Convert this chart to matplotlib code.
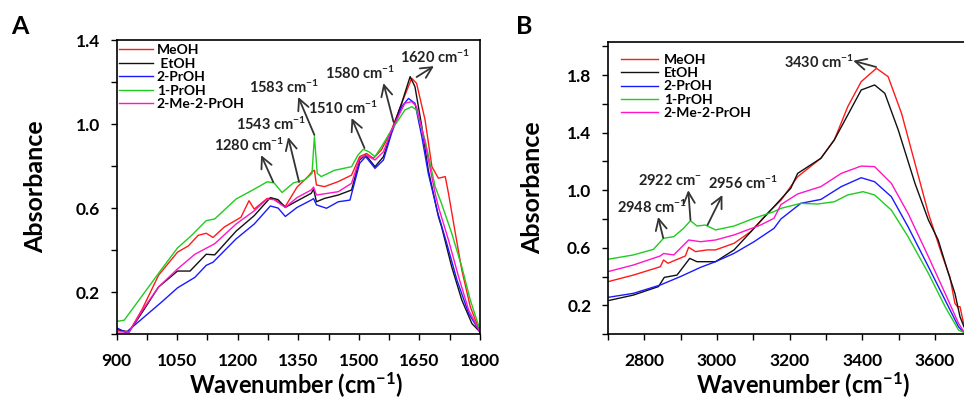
import matplotlib
matplotlib.use("Agg")
import matplotlib.pyplot as plt
from matplotlib.ticker import MultipleLocator

plt.rcParams['font.family'] = ['Lato', 'DejaVu Sans']
plt.rcParams['font.weight'] = 'bold'
plt.rcParams['mathtext.fontset'] = 'custom'
plt.rcParams['mathtext.rm'] = 'Lato:bold'
plt.rcParams['mathtext.it'] = 'Lato:bold:italic'
plt.rcParams['mathtext.bf'] = 'Lato:bold'

names = ["MeOH", "EtOH", "2-PrOH", "1-PrOH", "2-Me-2-PrOH"]
colors = ["#ff1a1a", "#111111", "#1a1aff", "#1fcc1f", "#ff14c8"]

# ---- panel A (900-1800 cm-1) ----
a_meoh_x = [900, 931, 964, 1004, 1051, 1078, 1102, 1122, 1139, 1167, 1208, 1228, 1241, 1273, 1290, 1318,
            1347, 1374, 1384, 1390, 1395, 1415, 1449, 1482, 1502, 1519, 1536, 1556, 1581, 1606, 1631,
            1643, 1664, 1681, 1697, 1714, 1722, 1739, 1755, 1776, 1800]
a_meoh_y = [0.02, 0.01, 0.12, 0.28, 0.39, 0.42, 0.47, 0.48, 0.46, 0.51, 0.556, 0.635, 0.595, 0.646, 0.643,
            0.608, 0.70, 0.75, 0.773, 0.78, 0.71, 0.702, 0.726, 0.757, 0.845, 0.86, 0.837, 0.877, 0.972,
            1.099, 1.218, 1.194, 1.02, 0.797, 0.742, 0.75, 0.67, 0.48, 0.305, 0.13, 0.01]
a_etoh_x = [900, 915, 931, 964, 1004, 1051, 1082, 1122, 1143, 1196, 1241, 1281, 1300, 1318, 1347, 1382,
            1388, 1395, 1415, 1449, 1482, 1502, 1517, 1540, 1561, 1581, 1606, 1627, 1639, 1656, 1672,
            1697, 1705, 1730, 1755, 1780, 1800]
a_etoh_y = [0.026, 0.015, 0.01, 0.105, 0.224, 0.30, 0.30, 0.38, 0.377, 0.49, 0.564, 0.65, 0.64, 0.603,
            0.634, 0.67, 0.69, 0.63, 0.646, 0.662, 0.686, 0.829, 0.853, 0.797, 0.845, 0.964, 1.099,
            1.226, 1.178, 0.988, 0.781, 0.56, 0.51, 0.32, 0.162, 0.05, 0.01]
a_2proh_x = [900, 923, 964, 1012, 1051, 1094, 1122, 1139, 1196, 1241, 1281, 1300, 1318, 1347, 1382, 1388,
             1395, 1420, 1449, 1478, 1502, 1517, 1540, 1561, 1581, 1606, 1623, 1639, 1656, 1672, 1695,
             1718, 1743, 1772, 1800]
a_2proh_y = [0.03, 0.007, 0.074, 0.153, 0.22, 0.27, 0.327, 0.342, 0.453, 0.524, 0.61, 0.60, 0.56, 0.603,
             0.638, 0.645, 0.615, 0.599, 0.63, 0.638, 0.813, 0.845, 0.789, 0.829, 0.956, 1.083, 1.122,
             1.099, 0.94, 0.765, 0.58, 0.43, 0.257, 0.098, 0.01]
a_1proh_x = [900, 919, 964, 1012, 1051, 1086, 1122, 1143, 1196, 1241, 1273, 1290, 1310, 1338, 1366, 1384,
             1390, 1397, 1407, 1440, 1482, 1498, 1511, 1525, 1540, 1556, 1581, 1598, 1614, 1631, 1643,
             1664, 1689, 1705, 1730, 1755, 1776, 1800]
a_1proh_y = [0.06, 0.066, 0.184, 0.31, 0.41, 0.47, 0.54, 0.548, 0.643, 0.69, 0.725, 0.72, 0.674, 0.72,
             0.734, 0.765, 0.94, 0.765, 0.75, 0.78, 0.797, 0.853, 0.88, 0.868, 0.845, 0.892, 0.972, 1.02,
             1.067, 1.083, 1.067, 0.924, 0.702, 0.62, 0.48, 0.32, 0.162, 0.02]
a_me2proh_x = [900, 931, 964, 1004, 1051, 1094, 1143, 1196, 1241, 1273, 1290, 1318, 1347, 1382, 1388,
               1395, 1449, 1482, 1502, 1517, 1540, 1561, 1581, 1614, 1631, 1643, 1664, 1689, 1697, 1722,
               1747, 1772, 1800]
a_me2proh_y = [0.01, 0.01, 0.113, 0.224, 0.31, 0.38, 0.43, 0.524, 0.587, 0.643, 0.64, 0.603, 0.65, 0.686,
               0.70, 0.662, 0.678, 0.718, 0.837, 0.853, 0.829, 0.868, 0.972, 1.099, 1.107, 1.083, 0.908,
               0.67, 0.606, 0.448, 0.273, 0.114, 0.01]

# ---- panel B (2700-3680 cm-1) ----
b_meoh_x = [2700, 2770, 2844, 2853, 2865, 2913, 2922, 2941, 2973, 2996, 3047, 3093, 3139, 3176, 3222, 3286,
            3323, 3360, 3397, 3439, 3471, 3508, 3545, 3582, 3618, 3641, 3655, 3662, 3669, 3680]
b_meoh_y = [0.364, 0.41, 0.468, 0.515, 0.492, 0.543, 0.603, 0.573, 0.585, 0.585, 0.631, 0.712, 0.84, 0.93,
            1.094, 1.222, 1.35, 1.581, 1.755, 1.848, 1.79, 1.535, 1.187, 0.839, 0.561, 0.398, 0.213, 0.19,
            0.19, 0.06]
b_etoh_x = [2700, 2770, 2839, 2855, 2890, 2925, 2945, 2996, 3047, 3102, 3157, 3203, 3222, 3286, 3323, 3360,
            3397, 3434, 3462, 3499, 3545, 3582, 3609, 3637, 3655, 3669, 3680]
b_etoh_y = [0.232, 0.271, 0.33, 0.394, 0.41, 0.526, 0.503, 0.503, 0.585, 0.735, 0.886, 1.013, 1.117, 1.222,
            1.35, 1.523, 1.697, 1.732, 1.674, 1.419, 1.048, 0.793, 0.654, 0.422, 0.283, 0.12, 0.05]
b_2proh_x = [2700, 2770, 2844, 2899, 2955, 2996, 3047, 3102, 3157, 3176, 3231, 3286, 3342, 3397, 3434, 3480,
             3526, 3582, 3628, 3665, 3680]
b_2proh_y = [0.255, 0.283, 0.341, 0.399, 0.464, 0.503, 0.561, 0.642, 0.735, 0.80, 0.909, 0.936, 1.025,
             1.087, 1.059, 0.955, 0.746, 0.468, 0.236, 0.05, 0.01]
b_1proh_x = [2700, 2770, 2825, 2853, 2881, 2908, 2927, 2945, 2968, 2996, 3047, 3102, 3157, 3176, 3231, 3277,
             3323, 3360, 3402, 3434, 3480, 3526, 3582, 3628, 3665, 3680]
b_1proh_y = [0.52, 0.55, 0.589, 0.666, 0.677, 0.735, 0.788, 0.751, 0.758, 0.724, 0.751, 0.805, 0.851, 0.874,
             0.909, 0.904, 0.92, 0.967, 0.99, 0.967, 0.862, 0.677, 0.422, 0.19, 0.028, 0.01]
b_me2proh_x = [2700, 2770, 2844, 2853, 2881, 2922, 2955, 2996, 3047, 3120, 3157, 3176, 3222, 3286, 3342,
               3397, 3434, 3480, 3526, 3582, 3628, 3665, 3680]
b_me2proh_y = [0.434, 0.48, 0.543, 0.56, 0.55, 0.654, 0.642, 0.654, 0.689, 0.758, 0.805, 0.90, 0.974, 1.025,
               1.117, 1.168, 1.164, 1.048, 0.839, 0.538, 0.283, 0.074, 0.015]

# peak labels: (text, text pos, arrow tail on curve, arrow head)
a_labels = ["1620 cm$^{-1}$", "1580 cm$^{-1}$", "1583 cm$^{-1}$", "1510 cm$^{-1}$", "1543 cm$^{-1}$", "1280 cm$^{-1}$"]
a_text_xy = [(1688, 1.32), (1502, 1.243), (1315, 1.176), (1462, 1.076), (1283, 1.0), (1228, 0.9)]
a_tail_xy = [(1643, 1.224), (1586, 1.01), (1390, 0.948), (1514, 0.886), (1352, 0.724), (1288, 0.724)]
a_head_xy = [(1686, 1.276), (1561, 1.195), (1350, 1.129), (1482, 1.029), (1325, 0.938), (1258, 0.852)]
b_labels = ["3430 cm$^{-1}$", "2922 cm$^{-}$", "2956 cm$^{-1}$", "2948 cm$^{-1}$"]
b_text_xy = [(3281, 1.89), (2871, 1.07), (3071, 1.05), (2822, 0.883)]
b_tail_xy = [(3438, 1.857), (2927, 0.793), (2974, 0.758), (2852, 0.668)]
b_head_xy = [(3375, 1.90), (2921, 1.0), (3015, 0.967), (2838, 0.814)]

fig = plt.figure(figsize=(9.64, 4.01), dpi=100)
axA = fig.add_axes([0.1209, 0.167, 0.377, 0.733])
axB = fig.add_axes([0.6307, 0.167, 0.3693, 0.728])

a_series = [(a_meoh_x, a_meoh_y), (a_etoh_x, a_etoh_y), (a_2proh_x, a_2proh_y),
            (a_1proh_x, a_1proh_y), (a_me2proh_x, a_me2proh_y)]
b_series = [(b_meoh_x, b_meoh_y), (b_etoh_x, b_etoh_y), (b_2proh_x, b_2proh_y),
            (b_1proh_x, b_1proh_y), (b_me2proh_x, b_me2proh_y)]
a_names = ["MeOH", " EtOH", "2-PrOH", "1-PrOH", "2-Me-2-PrOH"]

for (x, y), c, n in zip(a_series, colors, a_names):
    axA.plot(x, y, color=c, lw=1.0, label=n)
for (x, y), c, n in zip(b_series, colors, names):
    axB.plot(x, y, color=c, lw=1.0, label=n)

def style(ax, xlim, ylim, xmaj, xmin, ymaj0, ystep):
    ax.set_xlim(*xlim); ax.set_ylim(*ylim)
    ax.xaxis.set_major_locator(MultipleLocator(xmaj))
    ax.xaxis.set_minor_locator(MultipleLocator(xmin))
    ax.set_yticks([v / 10 for v in range(int(ymaj0 * 10), int(ylim[1] * 10) + 1, int(ystep * 10))])
    ax.yaxis.set_minor_locator(MultipleLocator(ystep / 2))
    ax.tick_params(which='both', direction='out', length=4, width=1.0, labelsize=12.5)
    ax.tick_params(axis='x', which='both', pad=10)
    ax.tick_params(axis='y', which='both', pad=8)
    for s in ax.spines.values():
        s.set_linewidth(1.2)
    ax.set_xlabel("Wavenumber (cm$^{-1}$)", fontsize=17, fontweight='bold')
    ax.set_ylabel("Absorbance", fontsize=18, fontweight='bold')

style(axA, (900, 1800), (0, 1.4), 150, 75, 0.2, 0.4)
style(axB, (2700, 3680), (0, 2.03), 200, 100, 0.2, 0.4)
axB.spines['right'].set_visible(False)

axA.xaxis.set_label_coords(0.494, -0.125)
axA.yaxis.set_label_coords(-0.19, 0.5)
axB.xaxis.set_label_coords(0.548, -0.125)
axB.yaxis.set_label_coords(-0.18, 0.5)

for ax, labs, txy, tail, head in [(axA, a_labels, a_text_xy, a_tail_xy, a_head_xy),
                                  (axB, b_labels, b_text_xy, b_tail_xy, b_head_xy)]:
    for lab, t, s, h in zip(labs, txy, tail, head):
        ax.text(t[0], t[1], lab, fontsize=10.5, fontweight='bold', color='#222222',
                ha='center', va='center')
        ax.annotate("", xy=h, xytext=s,
                    arrowprops=dict(arrowstyle='->', color='#333333', lw=1.3,
                                    mutation_scale=20, shrinkA=0, shrinkB=0))

axA.legend(loc='upper left', bbox_to_anchor=(0.0, 0.995), frameon=False, fontsize=10,
           handlelength=2.4, handletextpad=0.3, labelspacing=0.1, borderpad=0.1, borderaxespad=0.1)
axB.legend(loc='upper left', bbox_to_anchor=(0.03, 0.97), frameon=False, fontsize=10,
           handlelength=2.6, handletextpad=0.45, labelspacing=0.1, borderpad=0.1, borderaxespad=0.1)

fig.text(0.012, 0.915, "A", fontsize=18, fontweight='bold')
fig.text(0.535, 0.915, "B", fontsize=18, fontweight='bold')

fig.savefig("out.png", dpi=100)
